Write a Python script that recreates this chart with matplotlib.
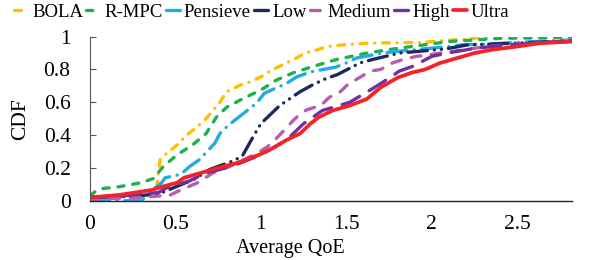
import matplotlib
matplotlib.use("Agg")
import matplotlib.pyplot as plt

plt.rcParams['font.family'] = ['Liberation Serif', 'DejaVu Serif']
plt.rcParams['lines.scale_dashes'] = False

# CDF curves (x = average QoE, y = CDF)
bola_x = [0, 0.2, 0.33, 0.39, 0.41, 0.45, 0.51, 0.565, 0.615, 0.67, 0.72, 0.76, 0.80, 0.88, 0.94,
          1.0, 1.07, 1.13, 1.20, 1.26, 1.33, 1.39, 1.48, 1.55, 1.62, 1.77, 1.95, 2.05, 2.2, 2.33]
bola_y = [.02, .03, .055, .08, .25, .29, .34, .40, .44, .49, .55, .60, .665, .705, .725,
          .755, .80, .83, .865, .90, .92, .94, .95, .955, .96, .963, .965, .975, .985, 1.0]

rmpc_x = [0, 0.03, 0.08, 0.17, 0.30, 0.37, 0.43, 0.51, 0.60, 0.68, 0.74, 0.80, 0.90, 1.0,
          1.09, 1.19, 1.31, 1.44, 1.62, 1.81, 2.1, 2.4, 2.82]
rmpc_y = [.03, .055, .075, .085, .11, .135, .21, .28, .34, .41, .51, .57, .625, .675,
          .735, .78, .82, .86, .90, .93, .97, .99, .995]

pens_x = [0, 0.3, 0.36, 0.42, 0.44, 0.53, 0.585, 0.64, 0.73, 0.76, 0.81, 0.92, 0.975, 1.02,
          1.15, 1.21, 1.29, 1.44, 1.50, 1.56, 1.71, 1.79, 1.95, 2.1, 2.18, 2.32, 2.6, 2.82]
pens_y = [0, 0, .06, .11, .14, .16, .21, .25, .35, .41, .46, .55, .595, .655,
          .715, .755, .785, .815, .84, .87, .90, .91, .925, .94, .95, .955, .97, .98]

low_x = [0, 0.2, 0.4, 0.56, 0.6, 0.7, 0.83, 0.89, 0.96, 1.0, 1.06, 1.11, 1.23, 1.30, 1.37,
         1.45, 1.58, 1.65, 1.73, 1.81, 1.97, 2.08, 2.21, 2.36, 2.6, 2.82]
low_y = [.02, .025, .04, .11, .125, .19, .24, .27, .40, .47, .53, .58, .665, .705, .74,
         .77, .84, .86, .88, .90, .915, .925, .95, .955, .965, .975]

med_x = [0, 0.3, 0.47, 0.53, 0.63, 0.69, 0.72, 0.82, 0.98, 1.04, 1.1, 1.19, 1.23, 1.27, 1.35,
         1.40, 1.46, 1.52, 1.56, 1.64, 1.70, 1.77, 1.83, 1.91, 1.99, 2.05, 2.12, 2.32, 2.45,
         2.6, 2.82]
med_y = [.01, .02, .035, .065, .11, .15, .17, .21, .29, .33, .39, .49, .53, .555, .58,
         .63, .66, .72, .74, .79, .80, .84, .86, .88, .89, .90, .91, .94, .95,
         .96, .975]

high_x = [0, 0.2, 0.4, 0.45, 0.58, 0.68, 0.76, 0.88, 1.0, 1.15, 1.25, 1.36, 1.52, 1.64,
          1.71, 1.81, 1.89, 2.0, 2.09, 2.26, 2.4, 2.6, 2.82]
high_y = [.02, .03, .05, .08, .12, .17, .19, .23, .28, .37, .47, .55, .60, .675,
          .72, .79, .82, .88, .90, .93, .945, .96, .975]

ultra_x = [0, 0.17, 0.36, 0.42, 0.51, 0.55, 0.65, 0.75, 0.86, 0.99, 1.07, 1.15, 1.23, 1.29,
           1.34, 1.42, 1.52, 1.62, 1.70, 1.80, 1.88, 1.96, 2.05, 2.15, 2.25, 2.35, 2.5, 2.63, 2.82]
ultra_y = [.02, .035, .065, .085, .11, .14, .17, .20, .23, .28, .32, .37, .41, .47,
           .51, .55, .58, .62, .69, .75, .78, .80, .84, .87, .90, .92, .94, .96, .97]

names = ['BOLA', 'R-MPC', 'Pensieve', 'Low', 'Medium', 'High', 'Ultra']
xs = [bola_x, rmpc_x, pens_x, low_x, med_x, high_x, ultra_x]
ys = [bola_y, rmpc_y, pens_y, low_y, med_y, high_y, ultra_y]
colors = ['#FFC000', '#1DB04E', '#22ABE3', '#1F2A5C', '#B65DB0', '#7030A0', '#F5222A']
dashes = [(5, 5.5, 0.1, 5.5),
          (4.5, 6.3),
          (14, 5.5, 0.1, 5.5),
          (14, 5, 0.1, 5, 0.1, 5),
          (7, 7.5),
          (14, 8),
          None]

fig = plt.figure(figsize=(5.94, 2.6), dpi=100)
ax = fig.add_axes([0.1515, 0.228, 0.8114, 0.631])

for x, y, name, c, d in zip(xs, ys, names, colors, dashes):
    line, = ax.plot(x, y, color=c, lw=2.4 if d else 2.7, label=name,
                    solid_capstyle='round', dash_capstyle='round')
    if d:
        line.set_dashes(d)

ax.set_xlim(0, 2.82)
ax.set_ylim(0, 1)
ax.set_xticks([0, 0.5, 1, 1.5, 2, 2.5])
ax.set_xticklabels(['0', '0.5', '1', '1.5', '2', '2.5'])
ax.set_yticks([0, 0.2, 0.4, 0.6, 0.8, 1])
ax.set_yticklabels(['0', '0.2', '0.4', '0.6', '0.8', '1'])
ax.tick_params(axis='x', length=0, pad=10, labelsize=15.5)
ax.tick_params(axis='y', direction='in', length=4, width=0.8, pad=14, labelsize=15.5,
               color='#555555')
for s in ['top', 'right']:
    ax.spines[s].set_visible(False)
ax.spines['left'].set_color('#555555')
ax.spines['left'].set_linewidth(0.8)
ax.spines['bottom'].set_color('#222222')
ax.spines['bottom'].set_linewidth(1.0)

ax.set_xlabel('Average QoE', fontsize=14.5)
ax.xaxis.set_label_coords(0.415, -0.235)
ax.set_ylabel('CDF', fontsize=15.5)
ax.yaxis.set_label_coords(-0.125, 0.5)

fig.legend(loc='upper left', bbox_to_anchor=(0.005, 1.03), ncol=7, frameon=False,
           fontsize=13.5, handlelength=0.75, handletextpad=0.2, columnspacing=0.18,
           borderaxespad=0.2)

fig.savefig('out.png', dpi=100)
